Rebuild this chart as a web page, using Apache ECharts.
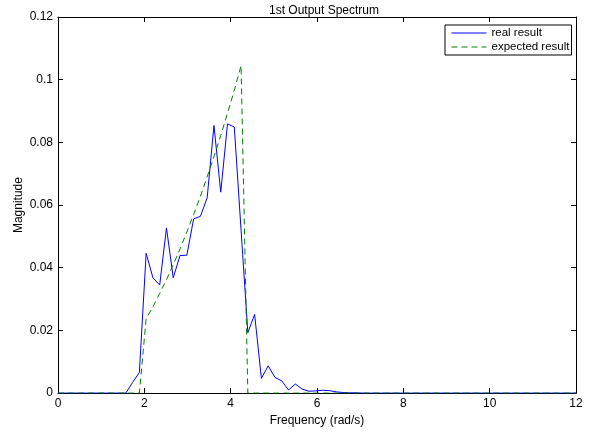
<!DOCTYPE html>
<html>
<head>
<meta charset="utf-8">
<script src="https://cdn.jsdelivr.net/npm/echarts@6/dist/echarts.min.js"></script>
<style>html,body{margin:0;padding:0;background:#fff}#c{width:602px;height:432px}</style>
</head>
<body>
<div id="c"></div>
<script>
// Frequency grid (rad/s), step 2*pi/40
const realFreq = [0,0.157,0.314,0.471,0.628,0.785,0.942,1.100,1.257,1.414,1.571,1.728,1.885,2.042,2.199,2.356,2.513,2.670,2.827,2.985,3.142,3.299,3.456,3.613,3.770,3.927,4.084,4.241,4.398,4.555,4.712,4.869,5.027,5.184,5.341,5.498,5.655,5.812,5.969,6.126,6.283,6.440,6.597,6.754,6.912,7.069,7.5,8,8.5,9,9.5,10,10.5,11,11.5,12];
const realMag  = [0,0,0,0,0,0,0,0,0,0,0,0.0034,0.0066,0.0446,0.0368,0.0345,0.0527,0.0368,0.0439,0.0440,0.0556,0.0564,0.0623,0.0854,0.0641,0.0859,0.0849,0.0520,0.0193,0.0251,0.0047,0.0087,0.0050,0.0039,0.0010,0.0029,0.0013,0.0006,0.0007,0.0009,0.0008,0.0004,0.0002,0.0001,0.0001,0,0,0,0,0,0,0,0,0,0,0];
const expFreq = [0,1.885,2.042,2.199,2.356,2.513,2.670,2.827,2.985,3.142,3.299,3.456,3.613,3.770,3.927,4.084,4.241,4.398,12];
const expMag  = [0,0,0.0238,0.0275,0.0318,0.0362,0.0410,0.0460,0.0514,0.0570,0.0628,0.0690,0.0755,0.0822,0.0893,0.0966,0.1045,0,0];
const xTicks = [0,2,4,6,8,10,12];
const yTicks = [0,0.02,0.04,0.06,0.08,0.1,0.12];

const font = 'Liberation Sans, Arial, Helvetica, sans-serif';
const fs = 12;
const chart = echarts.init(document.getElementById('c'));
const axisCommon = {
  axisLine:{show:true,onZero:false,lineStyle:{color:'#000',width:1}},
  axisTick:{show:true,inside:true,length:5,lineStyle:{color:'#000'}},
  splitLine:{show:false}
};
chart.setOption({
  animation:false,
  backgroundColor:'#fff',
  title:{text:'1st Output Spectrum',left:319,top:0,textAlign:'center',
    textStyle:{fontFamily:font,fontSize:fs,fontWeight:'normal',color:'#000'}},
  legend:{
    show:true,left:445,top:25,orient:'vertical',
    backgroundColor:'#fff',borderColor:'#000',borderWidth:1,borderRadius:0,
    padding:[2,2,2,6],itemGap:2,itemWidth:35,itemHeight:13,
    itemStyle:{opacity:0},
    lineStyle:{width:1},
    textStyle:{fontFamily:font,fontSize:11.5,color:'#000'},
    data:['real result','expected result']
  },
  grid:{left:58,right:26,top:17,bottom:38,containLabel:false},
  xAxis:[
    Object.assign({type:'value',min:0,max:12,interval:2,position:'bottom',
      name:'Frequency (rad/s)',nameLocation:'middle',nameGap:18,
      nameTextStyle:{fontFamily:font,fontSize:fs,color:'#000'},
      axisLabel:{fontFamily:font,fontSize:fs,color:'#000',margin:5}},axisCommon),
    Object.assign({type:'value',min:0,max:12,interval:2,position:'top',
      axisLabel:{show:false}},axisCommon)
  ],
  yAxis:[
    Object.assign({type:'value',min:0,max:0.12,interval:0.02,position:'left',
      name:'Magnitude',nameLocation:'middle',nameGap:33,nameRotate:90,nameMoveOverlap:false,
      nameTextStyle:{fontFamily:font,fontSize:fs,color:'#000'},
      axisLabel:{fontFamily:font,fontSize:fs,color:'#000',margin:5,
        formatter:v=>String(+v.toFixed(2))}},axisCommon),
    Object.assign({type:'value',min:0,max:0.12,interval:0.02,position:'right',
      axisLabel:{show:false}},axisCommon)
  ],
  series:[
    {name:'real result',type:'line',symbol:'none',
      data:realFreq.map((f,i)=>[f,realMag[i]]),
      lineStyle:{color:'#0000ff',width:1},itemStyle:{color:'#0000ff'}},
    {name:'expected result',type:'line',symbol:'none',
      data:expFreq.map((f,i)=>[f,expMag[i]]),
      lineStyle:{color:'#008000',width:1,type:[6,4]},itemStyle:{color:'#008000'}}
  ]
});
</script>
</body>
</html>
